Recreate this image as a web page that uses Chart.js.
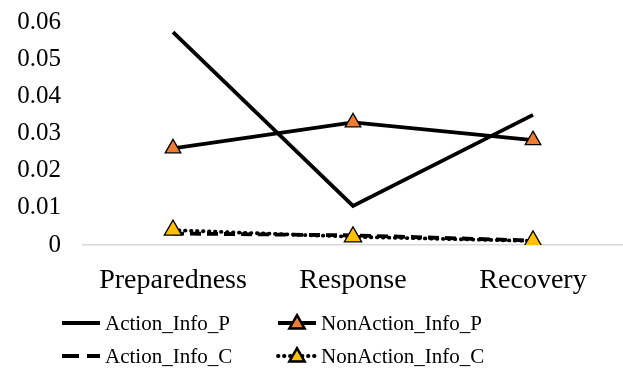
<!DOCTYPE html>
<html>
<head>
<meta charset="utf-8">
<script src="https://cdn.jsdelivr.net/npm/chart.js@4.4.1/dist/chart.umd.min.js"></script>
<style>
  html, body { margin: 0; padding: 0; background: #fff; }
  #wrap { width: 623px; height: 379px; }
</style>
</head>
<body>
<div id="wrap"><canvas id="grafico" width="623" height="379"></canvas></div>
<script>
// datos
const categorias = ['Preparedness', 'Response', 'Recovery'];
const actionInfoP = [0.0573, 0.0105, 0.035];
const nonActionInfoP = [0.026, 0.033, 0.0282];
const actionInfoC = [0.0031, 0.0026, 0.0012];
const nonActionInfoC = [0.004, 0.0022, 0.0011];
const nombresSeries = ['Action_Info_P', 'NonAction_Info_P', 'Action_Info_C', 'NonAction_Info_C'];
const ticksY = [0, 0.01, 0.02, 0.03, 0.04, 0.05, 0.06];

const fuente = '"Liberation Serif", "Times New Roman", serif';
const naranja = '#ED7D31';
const amarillo = '#FFC000';
const grosor = 3.8;

// leyenda de 2 columnas dibujada a mano (linea + marcador)
const leyendaPlugin = {
    id: 'leyendaExcel',
    afterDraw(chart) {
        const ctx = chart.ctx;
        const columnas = [60, 276];
        const filas = [323, 356];
        chart.data.datasets.forEach(function (ds, i) {
            const x = columnas[i % 2];
            const y = filas[Math.floor(i / 2)];
            ctx.save();
            ctx.strokeStyle = ds.borderColor;
            ctx.lineWidth = ds.borderWidth;
            ctx.lineCap = ds.borderCapStyle || 'butt';
            ctx.setLineDash(ds.legendDash || []);
            ctx.beginPath();
            ctx.moveTo(x + 2, y);
            ctx.lineTo(x + 40, y);
            ctx.stroke();
            ctx.setLineDash([]);
            if (ds.pointRadius > 0) {
                Chart.helpers.drawPoint(ctx, {
                    pointStyle: 'triangle',
                    radius: 7.5,
                    borderWidth: 1.2
                }, x + 21, y + 1);
                ctx.fillStyle = ds.pointBackgroundColor;
                ctx.strokeStyle = '#000';
                ctx.lineWidth = 1.2;
                ctx.fill();
                ctx.stroke();
            }
            ctx.fillStyle = '#000';
            ctx.font = '21px ' + fuente;
            ctx.textBaseline = 'middle';
            ctx.textAlign = 'left';
            ctx.fillText(ds.label, x + 45, y + 1);
            ctx.restore();
        });
    }
};

const datos = {
    labels: categorias,
    datasets: [
        {
            label: nombresSeries[0],
            data: actionInfoP,
            borderColor: '#000',
            borderWidth: grosor,
            pointRadius: 0,
            order: 3
        },
        {
            label: nombresSeries[1],
            data: nonActionInfoP,
            borderColor: '#000',
            borderWidth: grosor,
            pointStyle: 'triangle',
            pointRadius: 9,
            pointBackgroundColor: naranja,
            pointBorderColor: '#000',
            pointBorderWidth: 1.3,
            order: 2
        },
        {
            label: nombresSeries[2],
            data: actionInfoC,
            borderColor: '#000',
            borderWidth: grosor,
            borderDash: [11, 6],
            legendDash: [17, 8],
            pointRadius: 0,
            order: 1
        },
        {
            label: nombresSeries[3],
            data: nonActionInfoC,
            borderColor: '#000',
            borderWidth: grosor,
            borderDash: [0.5, 5.5],
            legendDash: [0.5, 5.5],
            borderCapStyle: 'round',
            pointStyle: 'triangle',
            pointRadius: 10,
            pointBackgroundColor: amarillo,
            pointBorderColor: '#000',
            pointBorderWidth: 1.3,
            order: 0
        }
    ]
};

new Chart(document.getElementById('grafico'), {
    type: 'line',
    data: datos,
    options: {
        responsive: false,
        animation: false,
        layout: { autoPadding: false, padding: { top: 22, right: 0, left: 0, bottom: 0 } },
        plugins: {
            legend: { display: false },
            tooltip: { enabled: false }
        },
        scales: {
            x: {
                offset: true,
                grid: { display: false, drawTicks: false },
                border: { display: true, color: '#d9d9d9', width: 1.5 },
                ticks: {
                    color: '#000',
                    padding: 19,
                    font: { family: fuente, size: 28 }
                },
                afterFit: function (escala) {
                    escala.height = 134;
                    escala.paddingLeft = 0;
                    escala.paddingRight = 0;
                }
            },
            y: {
                min: 0,
                max: 0.06,
                grid: { display: false, drawTicks: false },
                border: { display: false },
                afterBuildTicks: function (escala) {
                    escala.ticks = ticksY.map(v => ({ value: v }));
                },
                ticks: {
                    color: '#000',
                    padding: 22,
                    font: { family: fuente, size: 25 },
                    callback: v => String(Math.round(v * 100) / 100)
                },
                afterFit: function (escala) {
                    escala.width = 83;
                    escala.paddingTop = 0;
                    escala.paddingBottom = 0;
                }
            }
        }
    },
    plugins: [leyendaPlugin]
});
</script>
</body>
</html>
